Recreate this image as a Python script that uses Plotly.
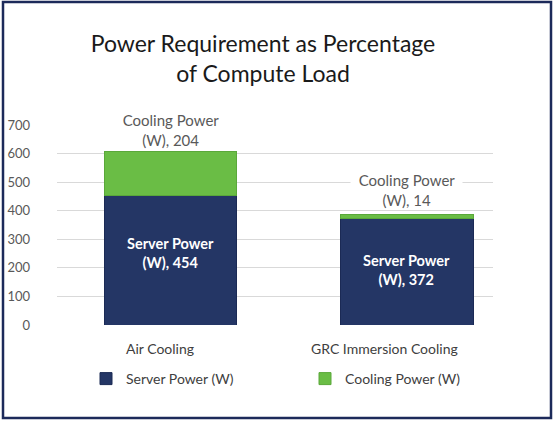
import plotly.graph_objects as go

categories = ["Air Cooling", "GRC Immersion Cooling"]
server_power = [454, 372]
cooling_power = [155, 14]          # bar heights as drawn
cooling_labels = [204, 14]         # values printed on the chart
y_ticks = [0, 100, 200, 300, 400, 500, 600, 700]

NAVY = "#243665"
GREEN = "#6abd45"
FONT = "Lato"

W, H = 555, 422
L, R, T, B = 57, 62, 125, 97
pw, ph = W - L - R, H - T - B


def px_x(x):
    return (x - L) / pw


def px_y(y):
    return (H - B - y) / ph


fig = go.Figure()
fig.add_trace(go.Bar(
    x=categories, y=server_power, name="Server Power (W)",
    marker=dict(color=NAVY, line=dict(color="#1b2a55", width=1)),
    width=0.56, hoverinfo="skip",
))
fig.add_trace(go.Bar(
    x=categories, y=cooling_power, name="Cooling Power (W)",
    marker=dict(color=GREEN, line=dict(color="#5aa83a", width=1)),
    width=0.56, hoverinfo="skip",
))

# labels inside the server bars
for cat, s, sh in zip(categories, server_power, [7, 2]):
    fig.add_annotation(
        x=cat, y=s / 2, text="Server Power<br>(W), %d" % s,
        showarrow=False, yanchor="middle", yshift=sh,
        font=dict(color="white", size=14.5, family=FONT, weight="bold"),
    )

# outside labels for the cooling segment, with white box over gridlines
pad = "&nbsp;&nbsp;"
for cat, s, c, lab, sh in zip(categories, server_power, cooling_power, cooling_labels, [1, 5]):
    fig.add_annotation(
        x=cat, y=s + c,
        text=pad + "Cooling Power" + pad + "<br>(W), %d" % lab,
        showarrow=False, yanchor="bottom", yshift=sh,
        font=dict(color="#595959", size=15, family=FONT),
        bgcolor="white", borderpad=0,
    )

# category labels
for cat, xs in zip(categories, [-10, -22]):
    fig.add_annotation(
        x=cat, y=0, yref="y", text=cat, showarrow=False,
        yanchor="middle", yshift=-23, xshift=xs,
        font=dict(color="#404040", size=14, family=FONT),
    )

# outer frame
fig.add_shape(
    type="rect", xref="paper", yref="paper",
    x0=px_x(3), x1=px_x(551), y0=px_y(418), y1=px_y(2),
    line=dict(color="#1c2a5a", width=2.5), layer="below",
)

fig.update_layout(
    width=W, height=H,
    margin=dict(l=L, r=R, t=T, b=B, autoexpand=False),
    paper_bgcolor="white", plot_bgcolor="white",
    barmode="stack",
    title=dict(
        text="Power Requirement as Percentage<br>of Compute Load",
        x=px_x(263), xref="paper", xanchor="center",
        y=1 - 52 / H, yanchor="middle",
        font=dict(size=23, color="#1a1a1a", family=FONT),
    ),
    font=dict(family=FONT, color="#595959"),
    showlegend=True,
    legend=dict(
        orientation="h", x=px_x(86), xanchor="left",
        y=px_y(379), yanchor="middle",
        entrywidth=174, entrywidthmode="pixels",
        font=dict(size=14, color="#404040", family=FONT),
        traceorder="normal",
    ),
    xaxis=dict(
        range=[-0.48, 1.364], showticklabels=False, showgrid=False,
        zeroline=False, showline=False, fixedrange=True,
    ),
    yaxis=dict(
        range=[0, 700], tickvals=y_ticks, showgrid=True,
        gridcolor="#d9d9d9", gridwidth=1, zeroline=False,
        tickfont=dict(size=13, color="#595959", family=FONT),
        ticks="", ticklabelstandoff=26, fixedrange=True,
    ),
)

# the page body has a default margin; drop it so the figure sits at 0,0
fig.write_html("out.html", config={"displayModeBar": False},
               post_script="document.body.style.margin='0';")
